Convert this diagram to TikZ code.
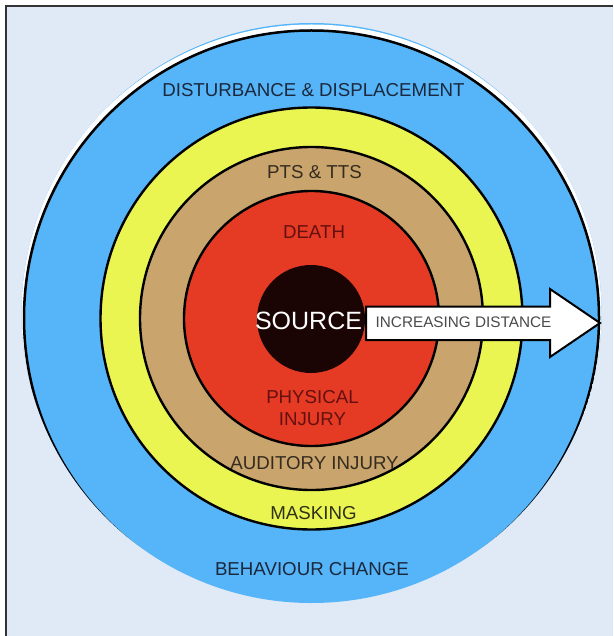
\documentclass[tikz,border=0pt]{standalone}
\usepackage{fontspec}
\setmainfont{Liberation Sans}
\definecolor{pagebg}{HTML}{DFEAF6}
\definecolor{framegray}{HTML}{333333}
\definecolor{zoneblue}{HTML}{55B5F8}
\definecolor{zoneyellow}{HTML}{EAF552}
\definecolor{zonetan}{HTML}{C9A46C}
\definecolor{zonered}{HTML}{E53B24}
\definecolor{sourcedark}{HTML}{1A0404}
\definecolor{navytext}{HTML}{1B283D}
\definecolor{browntext}{HTML}{352C20}
\definecolor{redtext}{HTML}{651010}
\definecolor{olivetext}{HTML}{303216}
\definecolor{arrowtext}{HTML}{4A4A4A}
\begin{document}
\begin{tikzpicture}[x=1pt,y=-1pt,
  ring/.style={circle, draw=black, line width=2.4pt, inner sep=0pt},
  zonetext/.style={font=\fontsize{18.7}{22}\selectfont, inner sep=0pt, align=center},
]
\useasboundingbox (0,0) rectangle (613,636);
% page and frame
\fill[white] (0,0) rectangle (613,636);
\fill[pagebg] (6,6) rectangle (613,636);
\draw[framegray, line width=2.5pt] (6,636) -- (6,6) -- (613,6);

% outer zone with its outline over the upper part
\node[circle, fill=zoneblue, minimum size=580pt, inner sep=0pt] (outer) at (311.5,313) {};
\begin{scope}
  \clip (311.5,313) circle (290pt);
  \draw[white, line width=5pt] (311.5,318) circle (291pt);
  \draw[black, line width=2.5pt] (311.5,318) circle (287.5pt);
\end{scope}

% nested zones
\node[ring, fill=zoneyellow, minimum size=422pt] (masking) at (311.5,318.5) {};
\node[ring, fill=zonetan, minimum size=343pt] (pts) at (311.5,318.5) {};
\node[ring, fill=zonered, minimum size=255pt] (death) at (311.5,318.5) {};
\node[circle, fill=sourcedark, minimum size=108pt, inner sep=0pt] (source) at (311,319) {};

% distance arrow
\draw[black, fill=white, line width=2pt, line join=miter]
  (366,306.5) -- (550,306.5) -- (550,289) -- (600,323) -- (550,357) -- (550,340) -- (366,340) -- cycle;
\node[font=\fontsize{15.3}{18}\selectfont, text=arrowtext, inner sep=0pt] (dist) at (463.5,322.5) {INCREASING DISTANCE};

% labels
\node[font=\fontsize{25}{30}\selectfont, text=white, inner sep=0pt] (srclabel) at (308.5,321) {SOURCE};
\node[zonetext, text=navytext] (disturb) at (313.5,90) {DISTURBANCE \& DISPLACEMENT};
\node[zonetext, text=browntext] (ptslabel) at (314.5,172) {PTS \& TTS};
\node[zonetext, text=redtext] (deathlabel) at (314,232) {DEATH};
\node[zonetext, text=redtext] (injury) at (312.5,408) {PHYSICAL\\INJURY};
\node[zonetext, text=browntext] (auditory) at (314.5,463) {AUDITORY INJURY};
\node[zonetext, text=olivetext] (masklabel) at (313.5,513) {MASKING};
\node[zonetext, text=navytext] (behaviour) at (312,569) {BEHAVIOUR CHANGE};
\end{tikzpicture}
\end{document}
